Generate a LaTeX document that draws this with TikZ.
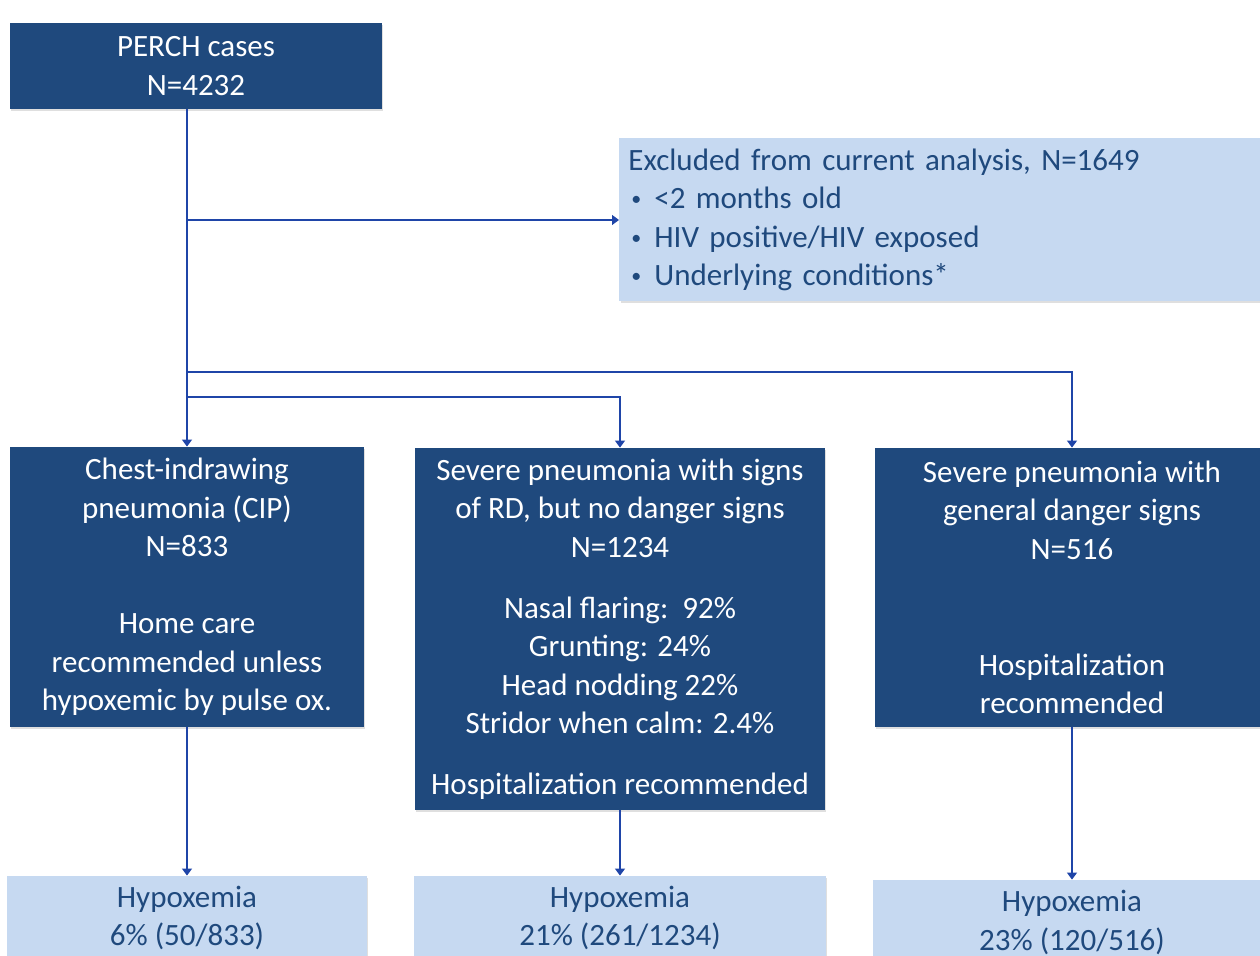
\documentclass[tikz,border=0pt]{standalone}
\usepackage{fontspec}
\setmainfont{Carlito}
\usetikzlibrary{positioning,arrows.meta,shadows}
\definecolor{navy}{HTML}{1F497D}
\definecolor{paleblue}{HTML}{C6D9F1}
\definecolor{linkblue}{HTML}{1F45A8}
\newcommand{\bul}{\makebox[13pt][l]{\hspace{1.5pt}\raisebox{0.2ex}{\fontsize{10}{10}\selectfont•}}}

\begin{document}
\begin{tikzpicture}[x=0.5pt,y=-0.5pt,
  box/.style={inner sep=0pt, align=center, font=\fontsize{15.5}{19.25}\selectfont,
    drop shadow={shadow xshift=0.6pt, shadow yshift=-0.8pt, opacity=0.25}},
  darkbox/.style={box, fill=navy, text=white},
  lightbox/.style={box, fill=paleblue, text=navy},
  link/.style={draw=linkblue, line width=0.6pt},
  flow/.style={link, -{Triangle[width=5pt,length=3.5pt]}}]
\useasboundingbox (0,0) rectangle (1260,956);

% top of the chart
\node[darkbox, minimum width=186pt, minimum height=43pt] (perch) at (196,66) {PERCH cases\\N=4232};
\node[lightbox, anchor=west, align=left, text width=321pt, minimum width=330pt, minimum height=81.5pt]
  (excl) at (619,220) {Excluded from current analysis, N=1649\\
  \bul <2 months old\\ \bul HIV positive/HIV exposed\\ \bul Underlying conditions*};

% three groups
\node[darkbox, minimum width=177pt, minimum height=140pt] (cip) at (187,587)
  {Chest-indrawing\\pneumonia (CIP)\\N=833\\[19.25pt]Home care\\recommended unless\\hypoxemic by pulse ox.};
\node[darkbox, minimum width=205pt, minimum height=181pt] (sevrd) at (620,629)
  {Severe pneumonia with signs\\of RD, but no danger signs\\N=1234\\[11.25pt]Nasal flaring:\ \ 92\%\\
  Grunting: 24\%\\Head nodding 22\%\\Stridor when calm: 2.4\%\\[11.25pt]Hospitalization recommended};
\node[darkbox, minimum width=197pt, minimum height=139.5pt] (sevdg) at (1072,587.5)
  {Severe pneumonia with\\general danger signs\\N=516\\[38.75pt]Hospitalization\\recommended};

% outcomes
\node[lightbox, minimum width=180pt, minimum height=42pt] (hypcip) at (187,918) {Hypoxemia\\6\% (50/833)};
\node[lightbox, minimum width=206pt, minimum height=42pt] (hyprd) at (620,918) {Hypoxemia\\21\% (261/1234)};
\node[lightbox, minimum width=199pt, minimum height=42.5pt] (hypdg) at (1072,922.5) {Hypoxemia\\23\% (120/516)};

\coordinate (forkdg) at (187,372);
\coordinate (forkrd) at (187,397);

\draw[flow] (perch.south -| cip.north) -- (cip.north);
\draw[flow] (cip.north |- excl.west) -- (excl.west);
\draw[flow] (forkdg) -| (sevdg.north);
\draw[flow] (forkrd) -| (sevrd.north);
\draw[flow] (cip.south) -- (hypcip.north);
\draw[flow] (sevrd.south) -- (hyprd.north);
\draw[flow] (sevdg.south) -- (hypdg.north);
\end{tikzpicture}
\end{document}
